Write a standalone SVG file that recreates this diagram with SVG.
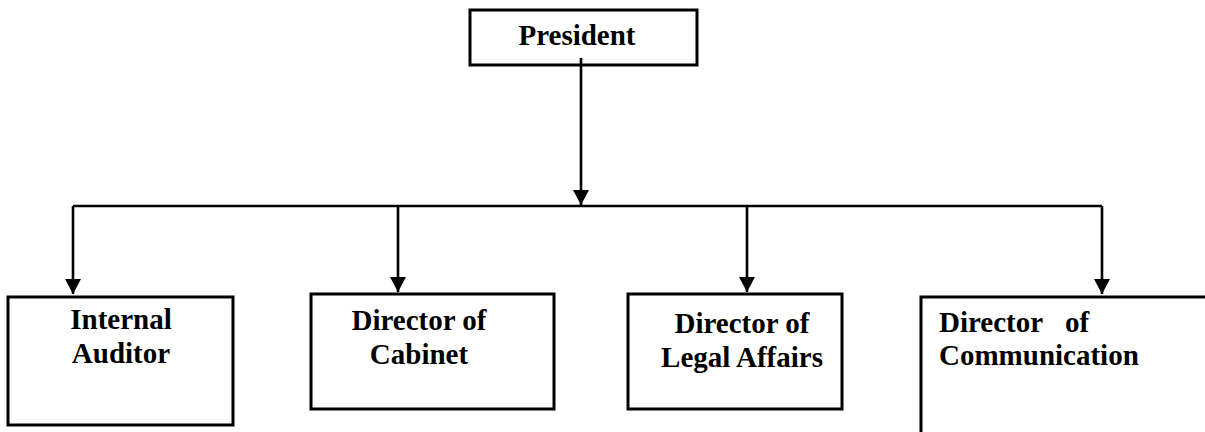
<svg xmlns="http://www.w3.org/2000/svg" width="1205" height="432" viewBox="0 0 1205 432">
<style>
.box{fill:#fff;stroke:#000;stroke-width:3}
.ln{fill:none;stroke:#000;stroke-width:2.6}
.t{font-family:"Liberation Serif",Tinos,"Times New Roman",Times,"DejaVu Serif",serif;font-weight:bold;font-size:29px;fill:#000}
.c{text-anchor:middle}
</style>
<defs>
<marker id="ah" markerUnits="userSpaceOnUse" markerWidth="16" markerHeight="16" viewBox="0 0 15 16" refX="15" refY="8" orient="auto">
<path d="M0,0 L15,8 L0,16 Z" fill="#000"/>
</marker>
</defs>
<g id="connectors">
<line class="ln" x1="581" y1="58" x2="581" y2="205" marker-end="url(#ah)"/>
<path class="ln" d="M73,206 H1102"/>
<line class="ln" x1="73" y1="206" x2="73" y2="294" marker-end="url(#ah)"/>
<line class="ln" x1="398" y1="206" x2="398" y2="292" marker-end="url(#ah)"/>
<line class="ln" x1="747" y1="206" x2="747" y2="292" marker-end="url(#ah)"/>
<line class="ln" x1="1102" y1="206" x2="1102" y2="294" marker-end="url(#ah)"/>
</g>
<g id="president">
<rect class="box" x="470" y="10" width="227" height="55"/>
<line class="ln" x1="581" y1="58" x2="581" y2="65"/>
<text class="t c" x="577" y="45">President</text>
</g>
<g id="internal-auditor">
<rect class="box" x="8" y="297" width="225" height="128"/>
<text class="t c" x="121" y="329">Internal</text>
<text class="t c" x="121" y="363">Auditor</text>
</g>
<g id="director-cabinet">
<rect class="box" x="311" y="294" width="243" height="115"/>
<text class="t c" x="419" y="330">Director of</text>
<text class="t c" x="419" y="364">Cabinet</text>
</g>
<g id="director-legal">
<rect class="box" x="628" y="294" width="214" height="115"/>
<text class="t c" x="742" y="333">Director of</text>
<text class="t c" x="742" y="367">Legal Affairs</text>
</g>
<g id="director-communication">
<path class="box" d="M1206,297 H921 V433" fill="none"/>
<text class="t" y="332"><tspan x="939">Director</tspan><tspan x="1065">of</tspan></text>
<text class="t" x="939" y="365">Communication</text>
</g>
</svg>
